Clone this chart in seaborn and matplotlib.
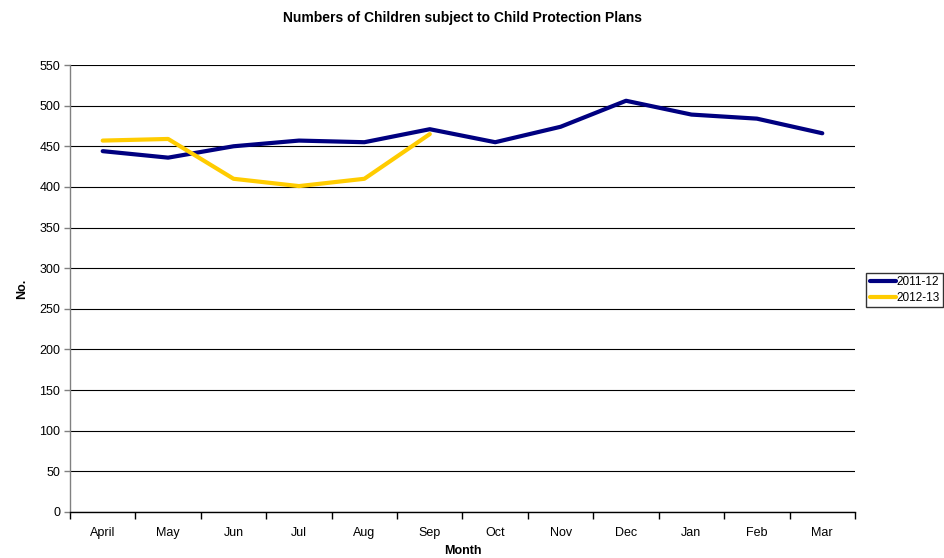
import matplotlib
matplotlib.use("Agg")
import matplotlib.pyplot as plt
import seaborn as sns
import pandas as pd
import numpy as np

months = ["April", "May", "Jun", "Jul", "Aug", "Sep", "Oct", "Nov", "Dec", "Jan", "Feb", "Mar"]
y2011 = [444, 436, 450, 457, 455, 471, 455, 474, 506, 489, 484, 466]
y2012 = [457, 459, 410, 401, 410, 465]
series_names = ["2011-12", "2012-13"]
colors = ["#000080", "#FFCC00"]

sns.set_theme(style="white")
plt.rcParams['font.family'] = ['Liberation Sans', 'DejaVu Sans']
plt.rcParams['text.color'] = 'black'
plt.rcParams['axes.labelcolor'] = 'black'
plt.rcParams['xtick.color'] = 'black'
plt.rcParams['ytick.color'] = 'black'

rows = []
for i, v in enumerate(y2011):
    rows.append({"Month": months[i], "idx": i, "No.": v, "Series": series_names[0]})
for i, v in enumerate(y2012):
    rows.append({"Month": months[i], "idx": i, "No.": v, "Series": series_names[1]})
df = pd.DataFrame(rows)

fig = plt.figure(figsize=(9.44, 5.58), dpi=100)
ax = fig.add_axes([70/944, 1-512/558, (855-70)/944, (512-65)/558])

sns.lineplot(data=df, x="idx", y="No.", hue="Series", palette=colors, linewidth=3,
             ax=ax, legend=True, sort=False)

ax.set_xlim(-0.5, len(months) - 0.5)
ax.set_ylim(0, 550)
ax.set_yticks(np.arange(0, 551, 50))
ax.yaxis.grid(True, color="#000000", linewidth=0.8)
ax.xaxis.grid(False)

ax.set_xticks(np.arange(-0.5, len(months), 1.0))
ax.set_xticklabels([])
ax.set_xticks(np.arange(len(months)), minor=True)
ax.set_xticklabels(months, minor=True)
ax.tick_params(axis="x", which="major", direction="out", length=5, width=1, color="black", bottom=True)
ax.tick_params(axis="x", which="minor", length=0, labelsize=9, pad=11, labelcolor="black")
ax.tick_params(axis="y", direction="out", length=4, width=1, color="#808080", left=True,
               labelsize=9, pad=3, labelcolor="black")

for s in ["top", "right"]:
    ax.spines[s].set_visible(False)
ax.spines["left"].set_color("#808080")
ax.spines["left"].set_linewidth(1)
ax.spines["bottom"].set_color("black")
ax.spines["bottom"].set_linewidth(1)

ax.set_xlabel("Month", fontsize=9, fontweight="bold", labelpad=4)
ax.set_ylabel("No.", fontsize=9, fontweight="bold", labelpad=8)
fig.suptitle("Numbers of Children subject to Child Protection Plans", fontsize=10,
             fontweight="bold", y=1-18/558, va="center", x=(70+855)/2/944)

leg = ax.legend(title=None, loc="center left", bbox_to_anchor=(866/944, 1-290/558),
                bbox_transform=fig.transFigure, frameon=True, fancybox=False,
                fontsize=8.5, handlelength=2.2, handletextpad=0.05, borderpad=0.3,
                labelspacing=0.3, borderaxespad=0)
leg.get_frame().set_edgecolor("black")
leg.get_frame().set_linewidth(1)

fig.savefig("out.png", dpi=100, facecolor="white")
